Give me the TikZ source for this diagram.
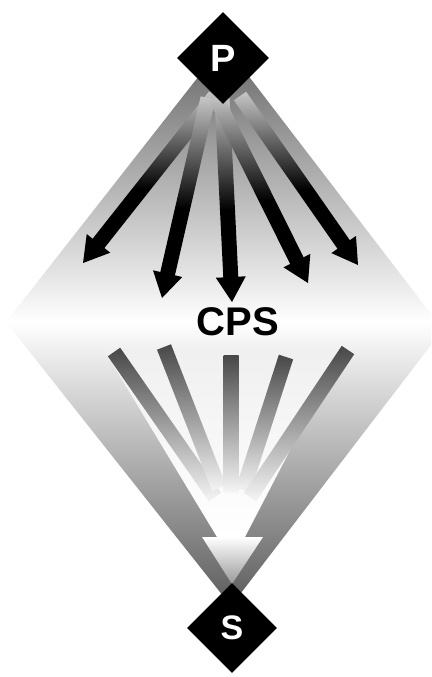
\documentclass[tikz,border=0pt]{standalone}
\usepackage{fontspec}
\setmainfont{Liberation Sans}
\usetikzlibrary{calc,shapes.geometric}
\colorlet{rayA}{black!22}
\colorlet{rayB}{black}
\pgfdeclareverticalshading{raysh}{100bp}{color(0bp)=(rayB); color(25bp)=(rayB); color(44bp)=(rayB); color(75bp)=(rayA); color(100bp)=(rayA)}
\colorlet{barA}{black!72}
\colorlet{barB}{black!38}
\colorlet{barC}{black!4}
\newcommand\rayarrow[2]{%
  \coordinate (rb) at ($(#2)!23pt!(#1)$);
  \shade[shading=raysh] ($(#1)!7.5pt!90:(#2)$) -- ($(rb)!7.5pt!90:(#2)$) -- ($(rb)!7.5pt!-90:(#2)$) -- ($(#1)!7.5pt!-90:(#2)$) -- cycle;
  \coordinate (rh) at ($(#2)!25pt!(#1)$);
  \fill[black] ($(rh)!15pt!90:(#2)$) -- (#2) -- ($(rh)!15pt!-90:(#2)$) -- cycle;}
\newcommand\lowbar[2]{%
  \shade[top color=barA, middle color=barB, bottom color=barC] ($(#1)!7.5pt!90:(#2)$) -- ($(#2)!7.5pt!-90:(#1)$) -- ($(#2)!7.5pt!90:(#1)$) -- ($(#1)!7.5pt!-90:(#2)$) -- cycle;}
\tikzset{
  blackdiamond/.style={diamond, fill=black, inner sep=0pt, text=white},
  bigletter/.style={font=\bfseries\fontsize{#1}{#1}\selectfont}
}
\begin{document}
\begin{tikzpicture}[x=1pt,y=-1pt]
\useasboundingbox (0,0) rectangle (431,677);
% big diamond
\coordinate (Dt) at (224,44);
\coordinate (Dl) at (6,322);
\coordinate (Db) at (231,606);
\coordinate (Dr1) at (431,314);
\coordinate (Dr2) at (431,345);
\coordinate (Dm) at (431,322);
\shade[top color=black!60, bottom color=white] (Dt) -- (Dl) -- (Dm) -- (Dr1) -- cycle;
\shade[top color=white, bottom color=black!64] (Dl) -- (Db) -- (Dr2) -- (Dm) -- cycle;
% funnel and white arrow
\coordinate (F1) at (104,350);
\coordinate (F2) at (217,537);
\coordinate (F3) at (245,537);
\coordinate (F4) at (342,350);
\shade[top color=black!6, middle color=black!13, bottom color=white] (F1) -- (F2) -- (F3) -- (F4) -- cycle;
\coordinate (H1) at (202,537);
\coordinate (H2) at (263,537);
\coordinate (H3) at (232,584);
\shade[top color=white, bottom color=black!40] (H1) -- (H2) -- (H3) -- cycle;
% lower bars
\coordinate (b1s) at (114,352); \coordinate (b1e) at (215,497);
\coordinate (b2s) at (164,347); \coordinate (b2e) at (219,488);
\coordinate (b3s) at (231,355); \coordinate (b3e) at (231,492);
\coordinate (b4s) at (286,357); \coordinate (b4e) at (243,490);
\coordinate (b5s) at (348,350); \coordinate (b5e) at (250,497);
\lowbar{b1s}{b1e}
\lowbar{b2s}{b2e}
\lowbar{b3s}{b3e}
\lowbar{b4s}{b4e}
\lowbar{b5s}{b5e}
% upper arrows
\coordinate (a1s) at (215,96);  \coordinate (a1t) at (83,263);
\coordinate (a2s) at (208,98);  \coordinate (a2t) at (162,298);
\coordinate (a3s) at (222,98);  \coordinate (a3t) at (232,302);
\coordinate (a4s) at (216,98);  \coordinate (a4t) at (308,283);
\coordinate (a5s) at (240,96);  \coordinate (a5t) at (358,265);
\rayarrow{a1s}{a1t}
\rayarrow{a2s}{a2t}
\rayarrow{a3s}{a3t}
\rayarrow{a4s}{a4t}
\rayarrow{a5s}{a5t}
% nodes
\node[blackdiamond, minimum width=92pt, minimum height=92pt, bigletter=38] (P) at (223,58) {P};
\node[blackdiamond, minimum width=90pt, minimum height=90pt, bigletter=34] (S) at (232,628) {S};
\node[bigletter=40] (CPS) at (238,322) {CPS};
\end{tikzpicture}
\end{document}
